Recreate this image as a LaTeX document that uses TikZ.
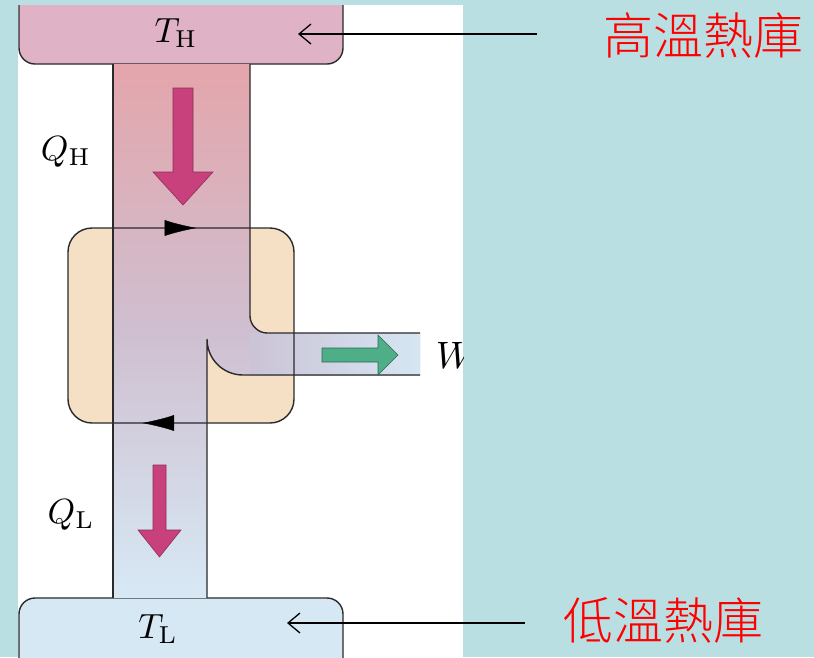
\documentclass[tikz,border=0pt]{standalone}
\usepackage{fontspec}
\usepackage{amsmath}
\newfontfamily\cjkfont{Noto Sans CJK TC}[UprightFont={* Light}]
\usetikzlibrary{arrows.meta}
\usetikzlibrary{decorations.markings}
\usetikzlibrary{positioning}

\definecolor{bgcyan}{HTML}{B9DFE3}
\definecolor{wallgray}{HTML}{2A2A2A}
\definecolor{hotpink}{HTML}{DFB3C5}
\definecolor{coldblue}{HTML}{D6E8F4}
\definecolor{enginetan}{HTML}{F6E0C5}
\definecolor{flowtop}{HTML}{E4A5AB}
\definecolor{flowmid}{HTML}{CFBFD0}
\definecolor{flowbot}{HTML}{D7E9F5}
\definecolor{workleft}{HTML}{CBC3D6}
\definecolor{workright}{HTML}{D6E6F3}
\definecolor{heatred}{HTML}{C8417D}
\definecolor{workgreen}{HTML}{4DAE88}

\tikzset{
  wall/.style={draw=wallgray, line width=1.4pt},
  heatarrow/.style={fill=heatred, draw=heatred!70!black, line width=0.6pt, line join=miter},
  workarrow/.style={fill=workgreen, draw=workgreen!60!black, line width=0.6pt, line join=miter},
  cyclearrow/.style={postaction={decorate}, decoration={markings,
      mark=at position #1 with {\arrow{Latex[length=32pt,width=16pt]}}}},
  symlabel/.style={inner sep=0pt, scale=3.5},
  reslabel/.style={inner sep=0pt, text=red, font=\cjkfont\fontsize{50}{58}\selectfont},
  pointer/.style={draw=black, line width=1.3pt, -{Straight Barb[length=12pt,width=20pt]}}
}

\begin{document}
\begin{tikzpicture}[x=1pt,y=-1pt]
    \useasboundingbox (0,0) rectangle (814,657);
    \fill[bgcyan] (0,0) rectangle (814,657);
    \fill[white] (18,5) rectangle (463,657);
    \begin{scope}
        \clip (16,5) rectangle (463,657);
        % reservoirs
        \draw[wall, fill=hotpink, rounded corners=16pt] (19,-40) rectangle (343,64);
        \draw[wall, fill=coldblue, rounded corners=16pt] (19,598) rectangle (343,700);
        % engine body
        \fill[enginetan, rounded corners=24pt] (68,228) rectangle (294,423);
        % heat flow
        \shade[top color=flowtop, bottom color=flowbot, middle color=flowmid]
            (113,64) -- (250,64) -- (250,316)
            .. controls (250,325) and (258,333) .. (267,333) -- (420,333)
            -- (420,375) -- (243,375)
            .. controls (223,375) and (207,359) .. (207,339)
            -- (207,598) -- (113,598) -- cycle;
        \shade[left color=workleft, right color=workright] (250,333) rectangle (420,375);
        \draw[wall] (113,64) -- (113,598);
        \draw[wall] (250,64) -- (250,316)
            .. controls (250,325) and (258,333) .. (267,333) -- (420,333);
        \draw[wall] (420,375) -- (243,375)
            .. controls (223,375) and (207,359) .. (207,339) -- (207,598);
        \draw[wall, rounded corners=24pt] (68,228) rectangle (294,423);
        \path[cyclearrow=0.61] (113,228) -- (250,228);
        \path[cyclearrow=0.69] (207,423) -- (113,423);
        % block arrows
        \draw[heatarrow] (173,88) -- (193,88) -- (193,172) -- (213,172)
            -- (183,205) -- (153,172) -- (173,172) -- cycle;
        \draw[heatarrow] (153,465) -- (166,465) -- (166,530) -- (181,530)
            -- (159.5,557) -- (138,530) -- (153,530) -- cycle;
        \draw[workarrow] (322,348) -- (378,348) -- (378,335) -- (398,355)
            -- (378,375) -- (378,362) -- (322,362) -- cycle;
        % labels
        \node[symlabel] (th) at (176,33) {$T_{\mathrm{H}}$};
        \node[symlabel] (tl) at (158,629) {$T_{\mathrm{L}}$};
        \node[symlabel] (qh) at (66,152) {$Q_{\mathrm{H}}$};
        \node[symlabel] (ql) at (71,515) {$Q_{\mathrm{L}}$};
        \node[symlabel, anchor=west, scale=1.09] (w) at (435,355) {$W$};
    \end{scope}
    \node[reslabel] (hot) at (703,36) {高溫熱庫};
    \node[reslabel] (cold) at (663,620) {低溫熱庫};
    \coordinate (hotstart) at (537,34);
    \coordinate (hotend) at (298,34);
    \coordinate (coldstart) at (525,623);
    \coordinate (coldend) at (287,623);
    \draw[pointer] (hotstart) -- (hotend);
    \draw[pointer] (coldstart) -- (coldend);
\end{tikzpicture}
\end{document}
